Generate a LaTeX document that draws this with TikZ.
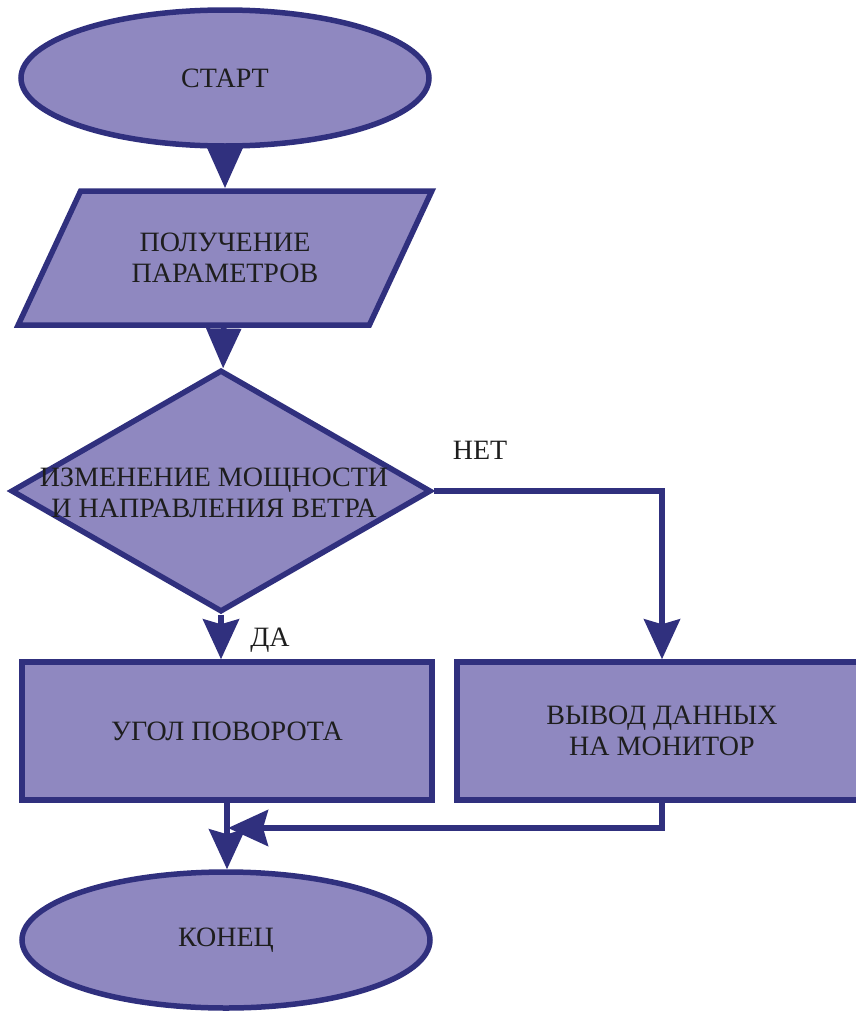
\documentclass[tikz,border=0pt]{standalone}
\usepackage{fontspec}
\setmainfont{Liberation Serif}
\usetikzlibrary{shapes.geometric,arrows.meta}
\definecolor{boxfill}{HTML}{8F88C0}
\definecolor{boxline}{HTML}{30307E}
\definecolor{txt}{HTML}{1E1E1E}
\begin{document}
\begin{tikzpicture}[x=1pt,y=-1pt,
        blockbase/.style={draw=boxline,fill=boxfill,line width=5.5pt,text=txt,
            font=\fontsize{28}{31}\selectfont,align=center,inner sep=0pt},
        term/.style={blockbase,ellipse,minimum width=408pt,minimum height=136pt},
        io/.style={blockbase,trapezium,trapezium left angle=51,
            trapezium right angle=129,trapezium stretches=true,
            minimum width=414pt,minimum height=134pt},
        decision/.style={blockbase,diamond,minimum width=420pt,minimum height=242pt},
        proc/.style={blockbase,rectangle,minimum width=410pt,minimum height=138pt},
        lbl/.style={text=txt,font=\fontsize{28}{31}\selectfont,align=center},
        conn/.style={draw=boxline,line width=5.5pt},
        arr/.style={conn,-{Triangle[length=40pt,width=34pt]}},
        arrs/.style={conn,-{Stealth[length=40pt,width=36pt,inset=5pt]}}]

\useasboundingbox (0,0) rectangle (856,1012);

\node[term] (start) at (225,78) {СТАРТ};
\node[io] (in) at (225,258) {ПОЛУЧЕНИЕ\\ПАРАМЕТРОВ};
\node[decision] (dec) at (221,491) {};
\node[lbl] (dectext) at (214,493) {ИЗМЕНЕНИЕ МОЩНОСТИ\\И НАПРАВЛЕНИЯ ВЕТРА};
\node[proc] (ugol) at (227,731) {УГОЛ ПОВОРОТА};
\node[proc] (out) at (662,731) {ВЫВОД ДАННЫХ\\НА МОНИТОР};
\node[term] (end) at (226,940) {КОНЕЦ};
\node[lbl] (yes) at (270,640) {ДА};
\node[lbl] (no) at (480,450) {НЕТ};
\coordinate (join) at (228,828);

% connectors
\draw[arr] (start) -- (in);
\draw[arr] (in) -- (dec);
\draw[arrs] (dec) -- (dec.south |- ugol.north);
\draw[arrs] (dec) -| (out);
\draw[arrs] (ugol) -- (ugol.south |- end.north);
\draw[arrs] (out) |- (join);
\end{tikzpicture}
\end{document}
